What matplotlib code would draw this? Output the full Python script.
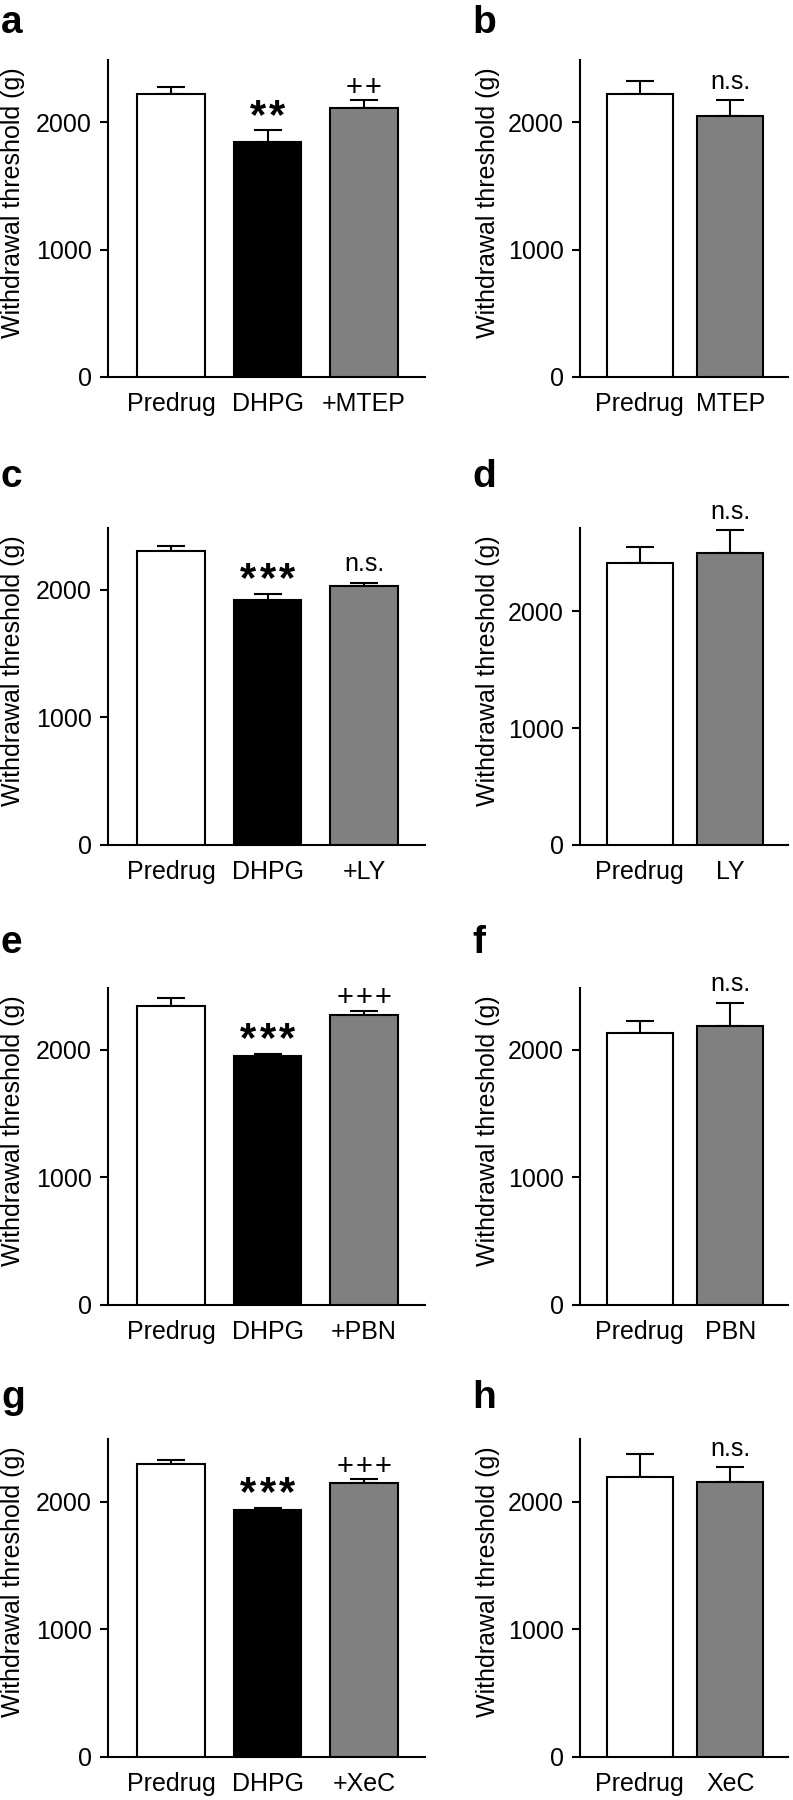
import matplotlib
matplotlib.use("Agg")
import matplotlib.pyplot as plt
import numpy as np

plt.rcParams['font.family'] = ['Liberation Sans', 'DejaVu Sans']

W, H = 793, 1800
GRAY = '#808080'

# panel a / b
labels_a = ['Predrug', 'DHPG', '+MTEP']
means_a = [2226, 1843, 2113]
sem_a = [53, 94, 65]
sig_a = ['', '**', '++']
labels_b = ['Predrug', 'MTEP']
means_b = [2226, 2047]
sem_b = [102, 131]
sig_b = ['', 'n.s.']

# panel c / d
labels_c = ['Predrug', 'DHPG', '+LY']
means_c = [2306, 1919, 2031]
sem_c = [34, 47, 26]
sig_c = ['', '***', 'n.s.']
labels_d = ['Predrug', 'LY']
means_d = [2414, 2500]
sem_d = [137, 200]
sig_d = ['', 'n.s.']

# panel e / f
labels_e = ['Predrug', 'DHPG', '+PBN']
means_e = [2340, 1955, 2275]
sem_e = [65, 11, 33]
sig_e = ['', '***', '+++']
labels_f = ['Predrug', 'PBN']
means_f = [2131, 2191]
sem_f = [96, 180]
sig_f = ['', 'n.s.']

# panel g / h
labels_g = ['Predrug', 'DHPG', '+XeC']
means_g = [2293, 1935, 2144]
sem_g = [31, 18, 34]
sig_g = ['', '***', '+++']
labels_h = ['Predrug', 'XeC']
means_h = [2191, 2157]
sem_h = [180, 115]
sig_h = ['', 'n.s.']

colors3 = ['white', 'black', GRAY]
colors2 = ['white', GRAY]


def draw_panel(ax, labels, means, sems, colors, sig, ymax):
    x = np.arange(len(means))
    width = 0.7 if len(means) == 3 else 0.73
    ax.bar(x, means, width=width, color=colors, edgecolor='black', linewidth=1.5, zorder=3)
    ax.errorbar(x, means, yerr=[np.zeros(len(sems)), sems], fmt='none', ecolor='black',
                elinewidth=1.5, capsize=10.4, capthick=1.5, zorder=2)
    if len(means) == 3:
        ax.set_xlim(-0.653, 2.632)
    else:
        ax.set_xlim(-0.658, 1.636)
    ax.set_ylim(0, ymax)
    ax.set_yticks([0, 1000, 2000])
    ax.set_xticks(x)
    ax.set_xticklabels(labels)
    ax.spines['top'].set_visible(False)
    ax.spines['right'].set_visible(False)
    for s in ['left', 'bottom']:
        ax.spines[s].set_linewidth(1.5)
    ax.tick_params(axis='y', length=5.5, width=1.5, pad=6, labelsize=18)
    ax.tick_params(axis='x', length=0, pad=11, labelsize=18)
    ax.set_ylabel('Withdrawal threshold (g)', fontsize=18)
    for i, s in enumerate(sig):
        if not s:
            continue
        top = means[i] + sems[i]
        if s == 'n.s.':
            ax.annotate(s, (x[i], top), xytext=(0, 8), textcoords='offset points',
                        ha='center', va='baseline', fontsize=18, annotation_clip=False)
            continue
        # stars / crosses: one glyph each, spread out like the original
        n = len(s)
        for j, ch in enumerate(s):
            dx = (j - (n - 1) / 2) * 13.7
            if ch == '*':
                ax.annotate(ch, (x[i], top), xytext=(dx, 2), textcoords='offset points',
                            ha='center', va='baseline', fontsize=30, fontweight='bold',
                            annotation_clip=False)
            else:
                ax.annotate(ch, (x[i], top), xytext=(dx, 3), textcoords='offset points',
                            ha='center', va='baseline', fontsize=21, annotation_clip=False)


fig = plt.figure(figsize=(W / 100, H / 100), dpi=100)

rows = [(60, 377), (528, 845), (988, 1305), (1439, 1757)]
left_x, left_w = 108, 317
right_x, right_w = 580, 208
panels = [
    (labels_a, means_a, sem_a, sig_a, 2490), (labels_b, means_b, sem_b, sig_b, 2490),
    (labels_c, means_c, sem_c, sig_c, 2485), (labels_d, means_d, sem_d, sig_d, 2715),
    (labels_e, means_e, sem_e, sig_e, 2485), (labels_f, means_f, sem_f, sig_f, 2485),
    (labels_g, means_g, sem_g, sig_g, 2490), (labels_h, means_h, sem_h, sig_h, 2490),
]
letters = 'abcdefgh'
letter_base = [33, 487, 953, 1408]

for k, (lab, m, s, sg, ymax) in enumerate(panels):
    row = k // 2
    top, bot = rows[row]
    if k % 2 == 0:
        ax = fig.add_axes([left_x / W, 1 - bot / H, left_w / W, (bot - top) / H])
        draw_panel(ax, lab, m, s, colors3, sg, ymax)
        ax.yaxis.set_label_coords(-83 / left_w, 0.55)
        fig.text(1 / W, 1 - letter_base[row] / H, letters[k], fontsize=28,
                 fontweight='bold', ha='left', va='baseline')
    else:
        ax = fig.add_axes([right_x / W, 1 - bot / H, right_w / W, (bot - top) / H])
        draw_panel(ax, lab, m, s, colors2, sg, ymax)
        ax.yaxis.set_label_coords(-80 / right_w, 0.55)
        fig.text(472 / W, 1 - letter_base[row] / H, letters[k], fontsize=28,
                 fontweight='bold', ha='left', va='baseline')

fig.savefig('out.png', dpi=100)
